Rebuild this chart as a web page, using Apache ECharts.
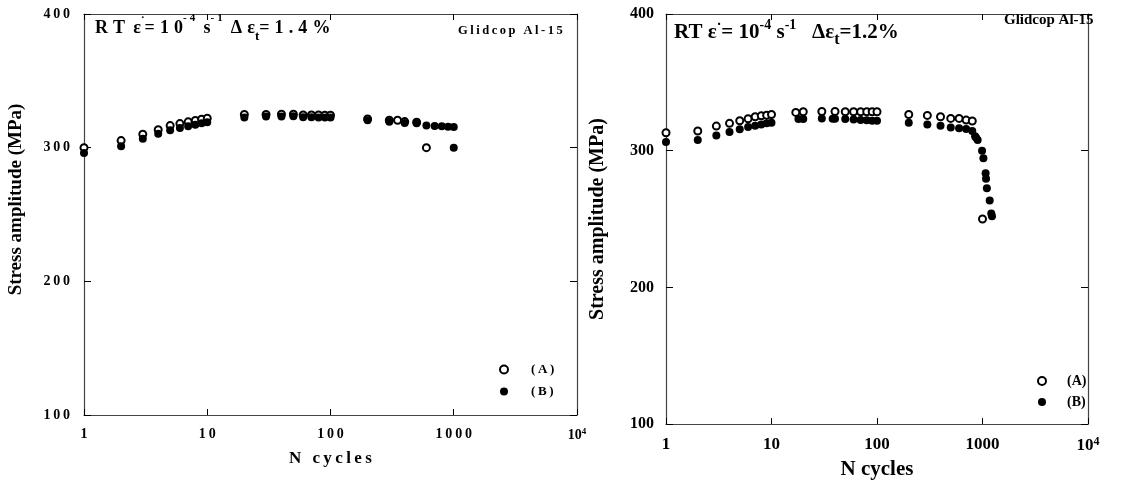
<!DOCTYPE html>
<html>
<head>
<meta charset="utf-8">
<script src="https://cdn.jsdelivr.net/npm/echarts@6/dist/echarts.min.js"></script>
<style>
  html, body { margin: 0; padding: 0; background: #fff; }
  #chart { width: 1122px; height: 485px; }
</style>
</head>
<body>
<div id="chart"></div>
<script>
  // left panel, delta eps_t = 1.4 %
  const leftCyclesA = [1, 2, 3, 4, 5, 6, 7, 8, 9, 10, 20, 30, 40, 50, 60, 70, 80, 90, 100, 200, 300, 350, 400, 500, 600]
  const leftStressA = [300, 305.3, 310, 313.4, 316.5, 318, 319.3, 320.3, 321.3, 322, 324.8, 324.8, 325, 325, 324.5, 324.5, 324.5, 324.3, 324.3, 321.5, 320.5, 320.5, 319.5, 319, 300]
  const leftCyclesB = [1, 2, 3, 4, 5, 6, 7, 8, 9, 10, 20, 30, 40, 50, 60, 70, 80, 90, 100, 200, 300, 400, 500, 600, 700, 800, 900, 1000, 1000]
  const leftStressB = [296, 301, 306.6, 310.4, 313, 314.7, 316, 317.2, 318.2, 319, 322.5, 323.3, 323.3, 323.5, 322.8, 322.8, 322.6, 322.5, 322.5, 320.5, 319.3, 318.5, 318.2, 316.5, 316.2, 316, 315.7, 315.5, 300]

  // right panel, delta eps_t = 1.2 %
  const rightCyclesA = [1, 2, 3, 4, 5, 6, 7, 8, 9, 10, 17, 20, 30, 40, 50, 60, 70, 80, 90, 100, 200, 300, 400, 500, 600, 700, 800, 1000]
  const rightStressA = [313.1, 314.4, 318, 320, 321.9, 323.4, 324.8, 325.5, 326, 326.5, 328, 328.5, 328.7, 328.7, 328.5, 328.5, 328.5, 328.5, 328.5, 328.5, 326.5, 325.8, 324.8, 323.6, 323.6, 322.4, 321.7, 250]
  const rightCyclesB = [1, 2, 3, 4, 5, 6, 7, 8, 9, 10, 18, 20, 30, 38, 40, 50, 60, 70, 80, 90, 100, 200, 300, 400, 500, 600, 700, 800, 850, 870, 900, 990, 1020, 1070, 1080, 1100, 1170, 1210, 1230]
  const rightStressB = [306.3, 307.8, 311.2, 313.6, 315.6, 317.3, 318.2, 319.2, 320, 320.4, 323.1, 323.1, 323.6, 323.4, 323.4, 323.1, 322.9, 322.4, 322.2, 322, 321.9, 320.4, 319.2, 318.2, 317, 316.5, 315.8, 314.4, 310.5, 309.5, 307.8, 300, 294.5, 283.5, 279.5, 272.5, 263.5, 254, 252]

  const seriesNames = ['(A)', '(B)']

  const serif = "'Liberation Serif', 'Times New Roman', serif"
  const pairs = (xs, ys) => xs.map((x, i) => [x, ys[i]])
  // the left panel is typeset with wide letter spacing
  const spaced = s => s.split('').join('\u2009')
  const wider = s => s.split('').join('\u2009\u200A')

  const xLabel = (wide, size) => ({
    fontFamily: serif,
    fontWeight: 'bold',
    fontSize: size,
    color: '#000',
    margin: 12,
    formatter: v => {
      const n = Math.round(v)
      if (n === 10000) return '{m|10}{s|4}'
      return wide ? spaced(String(n)) : String(n)
    },
    rich: {
      m: { fontFamily: serif, fontWeight: 'bold', fontSize: size, color: '#000' },
      s: { fontFamily: serif, fontWeight: 'bold', fontSize: size - 5, color: '#000', verticalAlign: 'top', padding: [0, 0, 7, 0] }
    }
  })

  function xAxes(grid, wide, size, gap) {
    const base = {
      gridIndex: grid,
      type: 'log',
      logBase: 10,
      min: 1,
      max: 10000,
      axisLine: { lineStyle: { color: '#444', width: 1.2 } },
      axisTick: { inside: true, length: 6, lineStyle: { color: '#000' } },
      splitLine: { show: false },
      minorTick: { show: false }
    }
    return [
      Object.assign({}, base, {
        position: 'bottom',
        name: wide ? spaced('N cycles') : 'N cycles',
        nameLocation: 'middle',
        nameGap: gap,
        nameTextStyle: { fontFamily: serif, fontWeight: 'bold', fontSize: wide ? 17 : 21, color: '#000' },
        axisLabel: xLabel(wide, size)
      }),
      Object.assign({}, base, { position: 'top', axisLabel: { show: false } })
    ]
  }

  function yAxes(grid, wide, size, gap, shift) {
    const base = {
      gridIndex: grid,
      type: 'value',
      min: 100,
      max: 400,
      interval: 100,
      axisLine: { lineStyle: { color: '#444', width: 1.2 } },
      axisTick: { inside: true, length: 7, lineStyle: { color: '#000' } },
      splitLine: { show: false }
    }
    return [
      Object.assign({}, base, {
        position: 'left',
        name: 'Stress amplitude (MPa)',
        nameLocation: 'middle',
        nameGap: gap,
        nameTextStyle: {
          fontFamily: serif, fontWeight: 'bold', fontSize: wide ? 19 : 20, color: '#000',
          padding: [0, 0, 0, shift]
        },
        axisLabel: {
          fontFamily: serif,
          fontWeight: 'bold',
          fontSize: size,
          color: '#000',
          margin: wide ? 14 : 12,
          formatter: v => (wide ? spaced(String(v)) : String(v))
        }
      }),
      Object.assign({}, base, { position: 'right', axisLabel: { show: false } })
    ]
  }

  const titleRich = (size) => ({
    m: { fontFamily: serif, fontWeight: 'bold', fontSize: size, color: '#000', lineHeight: 30 },
    s: { fontFamily: serif, fontWeight: 'bold', fontSize: size - 7, color: '#000', verticalAlign: 'top', lineHeight: 30, padding: [0, 0, 10, 0] },
    b: { fontFamily: serif, fontWeight: 'bold', fontSize: size - 5, color: '#000', verticalAlign: 'bottom', lineHeight: 30, padding: [12, 0, 0, 0] }
  })

  const leftTitle = '{m|' + wider('RT') + '\u2009 ε}{s|·}{m|' + wider('=10') + '}{s|' + wider('-4') + '}{m|\u2009 s}{s|' +
    wider('-1') + '}{m|\u2009 ' + wider('Δε') + '}{b|t}{m|' + wider('=1.4%') + '}'
  const rightTitle = '{m|RT ε}{s|·}{m|= 10}{s|-4}{m| s}{s|-1}{m|   Δε}{b|t}{m|=1.2%}'

  const chart = echarts.init(document.getElementById('chart'))

  const option = {
    backgroundColor: '#fff',
    animation: false,
    title: [
      { text: leftTitle, left: 90, top: 8, textStyle: { rich: titleRich(18) } },
      { text: rightTitle, left: 669, top: 13, textStyle: { rich: titleRich(21) } },
      { text: spaced('Glidcop Al-15'), left: 453, top: 19, textStyle: { fontFamily: serif, fontWeight: 'bold', fontSize: 12.5, color: '#000' } },
      { text: 'Glidcop Al-15', left: 999, top: 8, textStyle: { fontFamily: serif, fontWeight: 'bold', fontSize: 15, color: '#000' } }
    ],
    legend: [
      {
        data: [{ name: seriesNames[0], icon: 'emptyCircle' }, { name: seriesNames[1], icon: 'circle' }],
        orient: 'vertical',
        left: 494,
        top: 358,
        itemWidth: 8,
        itemHeight: 8,
        itemGap: 9,
        selectedMode: false,
        textStyle: { fontFamily: serif, fontWeight: 'bold', fontSize: 13, color: '#000', padding: [0, 0, 0, 18] },
        formatter: name => spaced(name)
      },
      {
        data: [{ name: seriesNames[0], icon: 'emptyCircle' }, { name: seriesNames[1], icon: 'circle' }],
        orient: 'vertical',
        left: 1032,
        top: 369,
        itemWidth: 8,
        itemHeight: 8,
        itemGap: 7,
        selectedMode: false,
        textStyle: { fontFamily: serif, fontWeight: 'bold', fontSize: 14, color: '#000', padding: [0, 0, 0, 16] }
      }
    ],
    grid: [
      { left: 84, top: 14, width: 493, height: 401 },
      { left: 666, top: 14, width: 422, height: 411 }
    ],
    xAxis: xAxes(0, true, 14, 35).concat(xAxes(1, false, 17, 31)),
    yAxis: yAxes(0, true, 14, 58, 30).concat(yAxes(1, false, 16, 58, 0)),
    series: [
      {
        name: seriesNames[0], type: 'scatter', xAxisIndex: 0, yAxisIndex: 0,
        symbol: 'emptyCircle', symbolSize: 7,
        itemStyle: { color: '#000', borderColor: '#000', borderWidth: 1, opacity: 1 },
        data: pairs(leftCyclesA, leftStressA)
      },
      {
        name: seriesNames[1], type: 'scatter', xAxisIndex: 0, yAxisIndex: 0,
        symbol: 'circle', symbolSize: 8,
        itemStyle: { color: '#000', opacity: 1 },
        data: pairs(leftCyclesB, leftStressB)
      },
      {
        name: seriesNames[0], type: 'scatter', xAxisIndex: 2, yAxisIndex: 2,
        symbol: 'emptyCircle', symbolSize: 7,
        itemStyle: { color: '#000', borderColor: '#000', borderWidth: 1, opacity: 1 },
        data: pairs(rightCyclesA, rightStressA)
      },
      {
        name: seriesNames[1], type: 'scatter', xAxisIndex: 2, yAxisIndex: 2,
        symbol: 'circle', symbolSize: 8,
        itemStyle: { color: '#000', opacity: 1 },
        data: pairs(rightCyclesB, rightStressB)
      }
    ]
  }

  chart.setOption(option)
</script>
</body>
</html>
